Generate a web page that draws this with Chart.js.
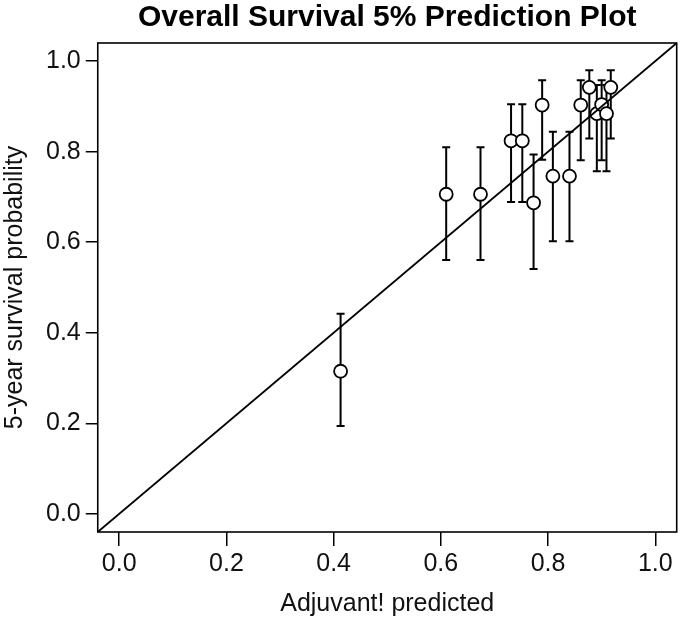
<!DOCTYPE html>
<html>
<head>
<meta charset="utf-8">
<title>Overall Survival 5% Prediction Plot</title>
<script src="https://cdn.jsdelivr.net/npm/chart.js@4.4.1/dist/chart.umd.min.js"></script>
<style>
  html, body { margin: 0; padding: 0; background: #fff; }
  #wrap { width: 685px; height: 619px; }
</style>
</head>
<body>
<div id="wrap"><canvas id="myChart"></canvas></div>
<script>
// data
const predicted = [0.413, 0.610, 0.674, 0.731, 0.752, 0.773, 0.789, 0.809, 0.840, 0.861, 0.877, 0.891, 0.900, 0.909, 0.917];
const observed  = [0.315, 0.706, 0.706, 0.824, 0.824, 0.687, 0.903, 0.746, 0.746, 0.903, 0.942, 0.884, 0.904, 0.884, 0.942];
const lower     = [0.194, 0.561, 0.561, 0.689, 0.689, 0.541, 0.782, 0.602, 0.602, 0.781, 0.829, 0.757, 0.781, 0.757, 0.829];
const upper     = [0.442, 0.810, 0.810, 0.905, 0.905, 0.794, 0.958, 0.844, 0.844, 0.958, 0.980, 0.947, 0.958, 0.947, 0.980];
const tickVals  = [0, 0.2, 0.4, 0.6, 0.8, 1.0];
const refLine   = [-0.04, 1.04];

const points = predicted.map((x, i) => ({ x: x, y: observed[i] }));
const diag = refLine.map(v => ({ x: v, y: v }));

// error bars + box around the plot
const errorBars = {
  id: "errorBars",
  beforeDatasetDraw(chart, args) {
    if (args.index !== 1) return;
    const ctx = chart.ctx;
    const xs = chart.scales.x, ys = chart.scales.y;
    ctx.save();
    ctx.strokeStyle = "#000";
    ctx.lineWidth = 2;
    for (let i = 0; i < predicted.length; i++) {
      const px = xs.getPixelForValue(predicted[i]);
      const top = ys.getPixelForValue(upper[i]);
      const bot = ys.getPixelForValue(lower[i]);
      ctx.beginPath();
      ctx.moveTo(px, top); ctx.lineTo(px, bot);
      ctx.moveTo(px - 4, top); ctx.lineTo(px + 4, top);
      ctx.moveTo(px - 4, bot); ctx.lineTo(px + 4, bot);
      ctx.stroke();
    }
    ctx.restore();
  },
  afterDraw(chart) {
    const a = chart.chartArea, ctx = chart.ctx;
    ctx.save();
    ctx.strokeStyle = "#000";
    ctx.lineWidth = 1.6;
    ctx.strokeRect(a.left, a.top, a.right - a.left, a.bottom - a.top);
    ctx.restore();
  }
};

function fixTicks(scale) {
  scale.ticks = tickVals.map(v => ({ value: v }));
}

const fam = "'Liberation Sans', Arial, sans-serif";
const tickFont = { family: fam, size: 25 };
const titleFont = { family: fam, size: 25 };

const myChart = new Chart(document.getElementById("myChart").getContext("2d"), {
  type: "scatter",
  data: {
    datasets: [
      {
        type: "line",
        data: diag,
        borderColor: "#000",
        borderWidth: 1.8,
        pointRadius: 0,
        fill: false
      },
      {
        data: points,
        pointRadius: 6.5,
        pointBackgroundColor: "#fff",
        pointBorderColor: "#000",
        pointBorderWidth: 1.8
      }
    ]
  },
  options: {
    responsive: true,
    maintainAspectRatio: false,
    animation: false,
    layout: { padding: { left: 0, right: 5, top: 0, bottom: 0 } },
    plugins: {
      legend: { display: false },
      tooltip: { enabled: false },
      title: {
        display: true,
        text: "Overall Survival 5% Prediction Plot",
        color: "#000",
        fullSize: false,
        font: { family: fam, size: 30, weight: "bold" },
        padding: { top: 0, bottom: 7 }
      }
    },
    scales: {
      x: {
        type: "linear",
        min: -0.04,
        max: 1.04,
        afterBuildTicks: fixTicks,
        grid: { drawOnChartArea: false, drawTicks: true, tickLength: 14, color: "#000", lineWidth: 1.5 },
        border: { display: false },
        ticks: { color: "#111", font: tickFont, padding: 3, callback: v => v.toFixed(1), maxRotation: 0 },
        title: { display: true, text: "Adjuvant! predicted", color: "#111", font: titleFont, padding: { top: 7, bottom: 0 } }
      },
      y: {
        type: "linear",
        min: -0.04,
        max: 1.04,
        afterBuildTicks: fixTicks,
        grid: { drawOnChartArea: false, drawTicks: true, tickLength: 12, color: "#000", lineWidth: 1.5 },
        border: { display: false },
        ticks: { color: "#111", font: tickFont, padding: 5, callback: v => v.toFixed(1) },
        title: { display: true, text: "5-year survival probability", color: "#111", font: titleFont, padding: { top: 0, bottom: 11 } }
      }
    }
  },
  plugins: [errorBars]
});
</script>
</body>
</html>
